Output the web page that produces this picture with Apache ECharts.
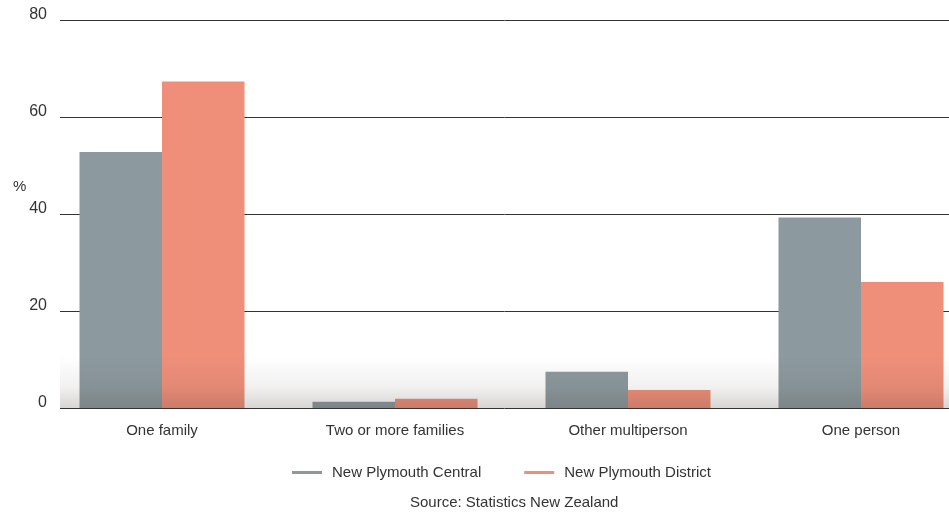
<!DOCTYPE html>
<html>
<head>
<meta charset="utf-8">
<style>
  html, body { margin: 0; padding: 0; background: #ffffff; overflow: hidden; width: 949px; height: 512px; }
  /* the drawing surface runs a little past the right edge so the last band keeps its full width */
  #chart { width: 980px; height: 512px; }
</style>
<script src="https://cdn.jsdelivr.net/npm/echarts@6/dist/echarts.min.js"></script>
</head>
<body>
<div id="chart"></div>
<script>
// Household composition, percent of households
const categories = ['One family', 'Two or more families', 'Other multiperson', 'One person'];
const seriesNames = ['New Plymouth Central', 'New Plymouth District'];
const centralValues = [52.8, 1.3, 7.5, 39.3];
const districtValues = [67.3, 1.9, 3.7, 26.0];
const yTicks = [0, 20, 40, 60, 80];
const sourceText = 'Source: Statistics New Zealand';

const FONT = '"Liberation Sans Narrow", "Liberation Sans", Roboto, sans-serif';
const TEXT = '#333333';
const GREY = '#8c999e';
const SALMON = '#ef8f7a';

const chart = echarts.init(document.getElementById('chart'), null, { renderer: 'canvas' });

const yMin = yTicks[0];
const yMax = yTicks[yTicks.length - 1];
const yStep = yTicks[1] - yTicks[0];

chart.setOption({
  animation: false,
  textStyle: { fontFamily: FONT, color: TEXT },
  title: [
    { text: '%', left: 13, top: 179, padding: 0, textStyle: { fontFamily: FONT, fontSize: 15, fontWeight: 'normal', color: TEXT } },
    { text: sourceText, left: 410, top: 495, padding: 0, textStyle: { fontFamily: FONT, fontSize: 15, fontWeight: 'normal', color: TEXT } }
  ],
  legend: {
    data: seriesNames,
    left: 292,
    top: 465,
    padding: 0,
    itemGap: 43,
    itemWidth: 30,
    itemHeight: 3,
    icon: 'rect',
    textStyle: { fontFamily: FONT, fontSize: 15, color: TEXT, padding: [0, 0, 0, 5] }
  },
  grid: [
    // value grid: gridlines and tick labels
    { left: 60, right: 31, top: 20, bottom: 104 },
    // bar grid: category bands
    { left: 45.5, width: 932, top: 20, bottom: 104 }
  ],
  xAxis: [
    { type: 'value', gridIndex: 0, show: false, min: 0, max: 1 },
    {
      type: 'category', gridIndex: 1, data: categories,
      axisLine: { show: false }, axisTick: { show: false },
      axisLabel: { fontFamily: FONT, fontSize: 15, color: TEXT, margin: 15 }
    }
  ],
  yAxis: [
    {
      type: 'value', gridIndex: 0, min: yMin, max: yMax, interval: yStep,
      axisLine: { show: false }, axisTick: { show: false },
      axisLabel: { fontFamily: FONT, fontSize: 16, color: TEXT, margin: 13, verticalAlign: 'bottom', lineHeight: 10 },
      splitLine: { show: true, lineStyle: { color: '#333333', width: 1 } }
    },
    { type: 'value', gridIndex: 1, min: yMin, max: yMax, interval: yStep, show: false, splitLine: { show: false } }
  ],
  series: [
    {
      name: seriesNames[0], type: 'bar', xAxisIndex: 1, yAxisIndex: 1,
      data: centralValues, barWidth: 82.5, barGap: '0%',
      itemStyle: { color: GREY }
    },
    {
      name: seriesNames[1], type: 'bar', xAxisIndex: 1, yAxisIndex: 1,
      data: districtValues, barWidth: 82.5, barGap: '0%',
      itemStyle: { color: SALMON }
    }
  ],
  graphic: [
    // soft shade along the baseline
    {
      type: 'rect', z: 100, silent: true,
      shape: { x: 60, y: 356, width: 889, height: 52 },
      style: {
        fill: new echarts.graphic.LinearGradient(0, 0, 0, 1, [
          { offset: 0, color: 'rgba(60,50,40,0)' },
          { offset: 0.6, color: 'rgba(60,50,40,0.07)' },
          { offset: 1, color: 'rgba(60,50,40,0.2)' }
        ])
      }
    }
  ]
});
</script>
</body>
</html>
